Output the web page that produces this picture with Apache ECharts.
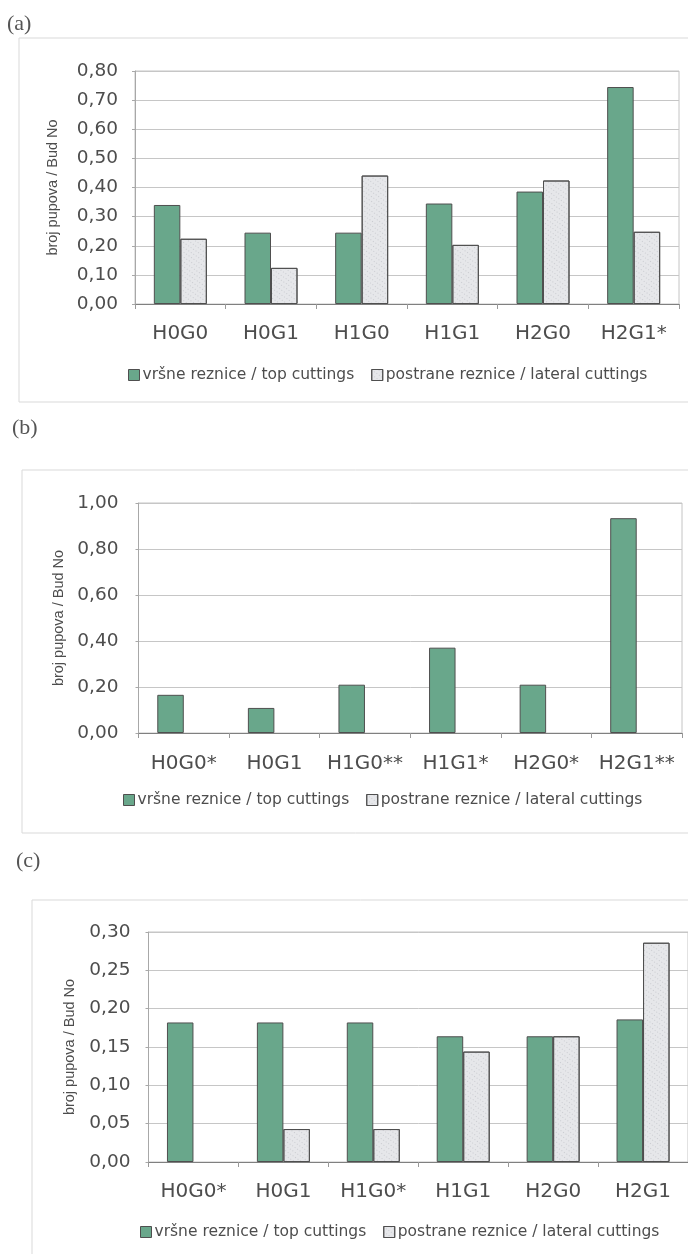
<!DOCTYPE html>
<html>
<head>
<meta charset="utf-8">
<script src="https://cdn.jsdelivr.net/npm/echarts@6/dist/echarts.min.js"></script>
<style>
  html, body { margin: 0; padding: 0; background: #fff; }
  #chart { width: 688px; height: 1254px; }
</style>
</head>
<body>
<div id="chart"></div>
<script>
// Bud number per cutting type, three experiments (a), (b), (c)
const seriesNames = ['vršne reznice / top cuttings', 'postrane reznice / lateral cuttings'];

const categoriesA = ['H0G0', 'H0G1', 'H1G0', 'H1G1', 'H2G0', 'H2G1*'];
const topA = [0.34, 0.245, 0.245, 0.345, 0.386, 0.745];
const lateralA = [0.224, 0.124, 0.441, 0.203, 0.424, 0.248];

const categoriesB = ['H0G0*', 'H0G1', 'H1G0**', 'H1G1*', 'H2G0*', 'H2G1**'];
const topB = [0.166, 0.109, 0.21, 0.371, 0.21, 0.934];
const lateralB = [0, 0, 0, 0, 0, 0];

const categoriesC = ['H0G0*', 'H0G1', 'H1G0*', 'H1G1', 'H2G0', 'H2G1'];
const topC = [0.182, 0.182, 0.182, 0.164, 0.164, 0.186];
const lateralC = [0, 0.043, 0.043, 0.144, 0.164, 0.286];

const panelLetters = ['(a)', '(b)', '(c)'];
const yAxisName = 'broj pupova / Bud No';

const GREEN = '#69a78b';
const LIGHT = '#e6e7ea';
const EDGE = '#4f4f4f';
const TEXT = '#4d4d4d';
const FONT = '"DejaVu Sans", Verdana, sans-serif';

const chart = echarts.init(document.getElementById('chart'), null, { renderer: 'canvas' });

const commaFmt = v => v.toFixed(2).replace('.', ',');

// speckled fill for the lateral-cutting bars
const speckle = {
  symbol: 'rect', symbolSize: 1, color: 'rgba(150,152,160,0.35)',
  dashArrayX: [1, 2], dashArrayY: [1, 3], rotation: 0.6
};

function xAxis(gridIndex, cats, margin) {
  return {
    type: 'category', gridIndex, data: cats,
    axisLine: { lineStyle: { color: '#808080', width: 1 } },
    axisTick: { show: true, length: 5, lineStyle: { color: '#999' } },
    axisLabel: { color: TEXT, fontFamily: FONT, fontSize: 20, margin, interval: 0 },
    splitLine: { show: false }
  };
}

function yAxis(gridIndex, max, interval, margin, nameGap) {
  return {
    type: 'value', gridIndex, min: 0, max, interval,
    name: yAxisName, nameLocation: 'middle', nameGap,
    nameTextStyle: { color: TEXT, fontFamily: '"Liberation Sans", Arial, sans-serif', fontSize: 14.5 },
    axisLine: { show: true, lineStyle: { color: '#a8a8a8' } },
    axisTick: { show: true, length: 3, lineStyle: { color: '#a8a8a8' } },
    axisLabel: { color: TEXT, fontFamily: FONT, fontSize: 18.5, margin, formatter: commaFmt },
    splitLine: { show: true, lineStyle: { color: '#c6c6c6', width: 1 } }
  };
}

function barPair(idx, tops, laterals) {
  const toData = arr => arr.map(v => (v === 0 ? { value: v, itemStyle: { borderWidth: 0 } } : v));
  return [
    {
      name: seriesNames[0], type: 'bar', xAxisIndex: idx, yAxisIndex: idx,
      data: toData(tops), barWidth: 26.5, barGap: '0%',
      itemStyle: { color: GREEN, borderColor: EDGE, borderWidth: 1 }
    },
    {
      name: seriesNames[1], type: 'bar', xAxisIndex: idx, yAxisIndex: idx,
      data: toData(laterals), barWidth: 26.5, barGap: '0%',
      itemStyle: { color: LIGHT, borderColor: EDGE, borderWidth: 1, decal: speckle }
    }
  ];
}

function legend(left, top) {
  return {
    data: seriesNames, left, top, orient: 'horizontal', padding: 0,
    icon: 'rect', itemWidth: 11, itemHeight: 11, itemGap: 17,
    itemStyle: { borderColor: EDGE, borderWidth: 1 },
    textStyle: { color: TEXT, fontFamily: FONT, fontSize: 15.5, padding: [0, 0, 0, -2] },
    selectedMode: false
  };
}

function frame(x, y, w, h) {
  return {
    type: 'rect', silent: true, z: -1,
    shape: { x, y, width: w, height: h },
    style: { fill: 'none', stroke: '#d9d9d9', lineWidth: 1 }
  };
}

function letter(text, x, y) {
  return {
    type: 'text', silent: true, x, y,
    style: { text, fill: '#555', font: '22px "Liberation Serif", "Times New Roman", serif', textVerticalAlign: 'middle' }
  };
}

chart.setOption({
  animation: false,
  backgroundColor: '#fff',
  aria: { enabled: false, decal: { show: false } },
  grid: [
    { left: 135, top: 71, width: 544, height: 233, show: true, borderColor: '#c4c4c4', borderWidth: 1 },
    { left: 138.5, top: 503, width: 543.5, height: 230, show: true, borderColor: '#c4c4c4', borderWidth: 1 },
    { left: 148.5, top: 932, width: 545, height: 230, show: true, borderColor: '#c4c4c4', borderWidth: 1 }
  ],
  xAxis: [
    xAxis(0, categoriesA, 20),
    xAxis(1, categoriesB, 21),
    xAxis(2, categoriesC, 20)
  ],
  yAxis: [
    yAxis(0, 0.8, 0.1, 17, 75),
    yAxis(1, 1.0, 0.2, 20, 66),
    yAxis(2, 0.3, 0.05, 18, 71)
  ],
  legend: [
    legend(128, 367),
    legend(123, 792),
    legend(140, 1224)
  ],
  series: [
    ...barPair(0, topA, lateralA),
    ...barPair(1, topB, lateralB),
    ...barPair(2, topC, lateralC)
  ],
  graphic: [
    frame(19, 38, 720, 364),
    frame(22, 470, 720, 363),
    frame(32, 900, 720, 420),
    letter(panelLetters[0], 7, 24),
    letter(panelLetters[1], 12, 428),
    letter(panelLetters[2], 16, 861)
  ]
});
</script>
</body>
</html>
